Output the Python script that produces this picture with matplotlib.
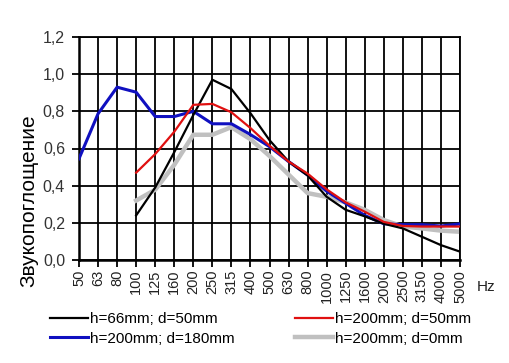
import numpy as np
import matplotlib
matplotlib.use("Agg")
import matplotlib.pyplot as plt

plt.rcParams['font.family'] = ['Liberation Sans', 'DejaVu Sans']

freqs = ['50', '63', '80', '100', '125', '160', '200', '250', '315', '400', '500',
         '630', '800', '1000', '1250', '1600', '2000', '2500', '3150', '4000', '5000']
nan = np.nan
h66_d50 = [nan, nan, nan, 0.24, 0.39, 0.58, 0.78, 0.97, 0.92, 0.79, 0.645, 0.53,
           0.455, 0.34, 0.27, 0.235, 0.195, 0.17, 0.125, 0.08, 0.045]
h200_d50 = [nan, nan, nan, 0.47, 0.57, 0.69, 0.835, 0.84, 0.795, 0.71, 0.615, 0.53,
            0.465, 0.38, 0.31, 0.26, 0.205, 0.183, 0.18, 0.18, 0.18]
h200_d180 = [0.545, 0.787, 0.93, 0.903, 0.772, 0.772, 0.80, 0.733, 0.733, 0.675, 0.61,
             0.53, 0.457, 0.37, 0.305, 0.24, 0.195, 0.19, 0.19, 0.183, 0.194]
h200_d0 = [nan, nan, nan, 0.32, 0.378, 0.512, 0.674, 0.674, 0.715, 0.65, 0.56, 0.46,
           0.36, 0.34, 0.31, 0.27, 0.215, 0.18, 0.17, 0.158, 0.152]
yticks = [0.0, 0.2, 0.4, 0.6, 0.8, 1.0, 1.2]
ytick_labels = ['0,0', '0,2', '0,4', '0,6', '0,8', '1,0', '1,2']

fig = plt.figure(figsize=(5.09, 3.63), dpi=100)
ax = fig.add_axes([79/509, 1-260/363, (460-79)/509, (260-37)/363])

x = np.arange(len(freqs))
l_black, = ax.plot(x, h66_d50, color='black', lw=1.6, label='h=66mm; d=50mm', zorder=4)
l_red, = ax.plot(x, h200_d50, color='#e01010', lw=1.6, label='h=200mm; d=50mm', zorder=4)
l_blue, = ax.plot(x, h200_d180, color='#1010c0', lw=2.2, label='h=200mm; d=180mm', zorder=3)
l_gray, = ax.plot(x, h200_d0, color='#c0c0c0', lw=3.2, label='h=200mm; d=0mm', zorder=2)

ax.set_xlim(0, len(freqs)-1)
ax.set_ylim(0, 1.2)
ax.set_xticks(x)
ax.set_xticklabels(freqs, rotation=90, fontsize=10.5, color='#222222')
ax.set_yticks(yticks)
ax.set_yticklabels(ytick_labels, fontsize=11.5, color='#333333')
ax.grid(True, color='black', lw=1.3)
ax.set_axisbelow(True)
for s in ax.spines.values():
    s.set_color('black')
    s.set_linewidth(1.3)
ax.spines['left'].set_linewidth(1.8)
ax.spines['bottom'].set_linewidth(1.8)
ax.tick_params(axis='both', length=5, width=1.3, color='black')
ax.tick_params(axis='x', pad=2)
ax.tick_params(axis='y', pad=5)

fig.text(29/509, 1-201/363, 'Звукопоглощение', rotation=90, ha='center', va='center',
         fontsize=15, color='black')
fig.text(477/509, 1-287/363, 'Hz', ha='left', va='center', fontsize=11, color='#222222')

fig.legend(handles=[l_black, l_blue, l_red, l_gray], ncol=2, loc='upper left',
           bbox_to_anchor=(50/509, 1-312/363), frameon=False, fontsize=11,
           handlelength=2.5, handletextpad=0.15, columnspacing=3.9, labelspacing=0.38,
           borderaxespad=0, borderpad=0)

fig.savefig('out.png', dpi=100)
